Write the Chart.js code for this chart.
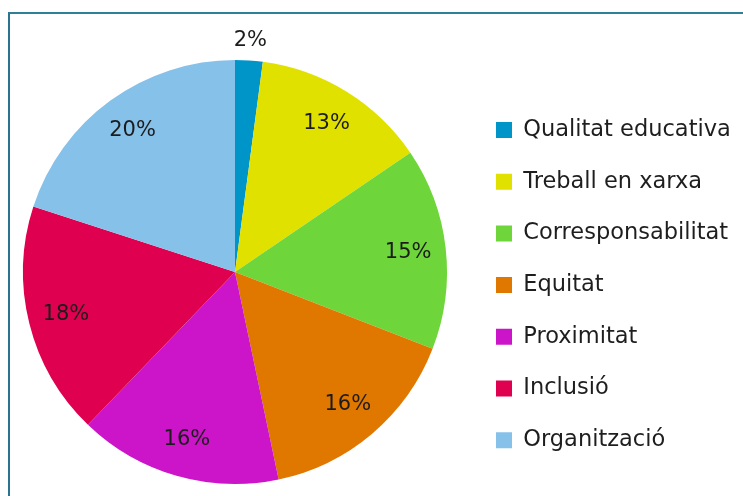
<!DOCTYPE html>
<html>
<head>
<meta charset="utf-8">
<script src="https://cdn.jsdelivr.net/npm/chart.js@4.4.1/dist/chart.umd.min.js"></script>
<style>
html,body{margin:0;padding:0;background:#fff;overflow:hidden}
#wrap{position:relative;width:743px;height:496px}
#frame{position:absolute;left:8px;top:12px;right:0;bottom:0;border-top:2px solid #2f7f99;border-left:2px solid #2b7391;pointer-events:none;box-sizing:border-box}
canvas{position:absolute;left:0;top:0}
</style>
</head>
<body>
<div id="wrap"><canvas id="c" width="743" height="496"></canvas><div id="frame"></div></div>
<script>
const categories = ['Qualitat educativa','Treball en xarxa','Corresponsabilitat','Equitat','Proximitat','Inclusió','Organització'];
const values = [2.1, 13.4, 15.4, 15.8, 15.5, 17.8, 20.0];
const percentLabels = ['2%','13%','15%','16%','16%','18%','20%'];
const colors = ['#0095c9','#e1e100','#6ed63a','#e07800','#cc14c8','#e00050','#86c1ea'];

const FONT = '"DejaVu Sans", sans-serif';
const LEGEND_SIZE = 22.5;
const LABEL_SIZE = 21;
const LEG_PAD = 51.7 - LEGEND_SIZE;
const BOX = 16;

// layout: pie centre (235,272), radius 212; legend boxes at x=496
const mctx = document.createElement('canvas').getContext('2d');
mctx.font = LEGEND_SIZE + 'px ' + FONT;
const tw = Math.max(...categories.map(t => mctx.measureText(t).width));
const legendLeft = 496 - LEG_PAD;
const legendWidth = LEG_PAD + BOX + LEGEND_SIZE / 2 + tw + 10;
const padRight = Math.max(0, 743 - (legendLeft + legendWidth));
const padLeft = 2 * 235 - legendLeft;

const sliceLabels = {
  id: 'sliceLabels',
  afterDatasetsDraw(chart) {
    const ctx = chart.ctx;
    const meta = chart.getDatasetMeta(0);
    ctx.save();
    ctx.font = LABEL_SIZE + 'px ' + FONT;
    ctx.fillStyle = '#1c1c1c';
    ctx.textAlign = 'center';
    ctx.textBaseline = 'middle';
    meta.data.forEach((arc, i) => {
      const p = arc.getProps(['x','y','startAngle','endAngle','outerRadius'], true);
      const mid = (p.startAngle + p.endAngle) / 2;
      const frac = (p.endAngle - p.startAngle) / (2 * Math.PI);
      const d = frac < 0.05 ? p.outerRadius + 20 : p.outerRadius * 0.822;
      ctx.fillText(percentLabels[i], p.x + Math.cos(mid) * d, p.y + Math.sin(mid) * d);
    });
    ctx.restore();
  }
};

new Chart(document.getElementById('c'), {
  type: 'pie',
  data: {
    labels: categories,
    datasets: [{ data: values, backgroundColor: colors, borderWidth: 0, hoverOffset: 0 }]
  },
  options: {
    responsive: false,
    animation: false,
    layout: { padding: { top: 60, bottom: 12, left: padLeft, right: padRight } },
    plugins: {
      tooltip: { enabled: false },
      legend: {
        position: 'right',
        align: 'center',
        title: { display: true, text: ' ', font: { size: 10, lineHeight: 1.2 }, padding: { top: 14.2, bottom: 0 } },
        labels: {
          boxWidth: BOX, boxHeight: BOX, padding: LEG_PAD,
          font: { family: FONT, size: LEGEND_SIZE },
          color: '#1e1e1e'
        }
      }
    }
  },
  plugins: [sliceLabels]
});
</script>
</body>
</html>
